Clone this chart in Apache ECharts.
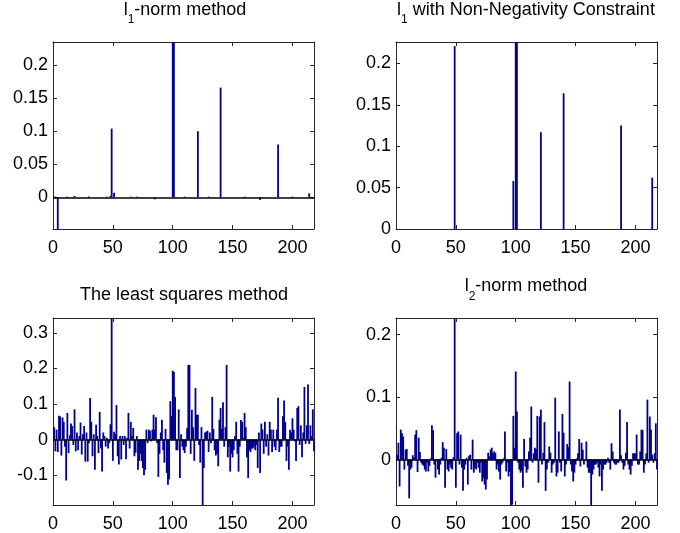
<!DOCTYPE html>
<html><head><meta charset="utf-8">
<script src="https://cdn.jsdelivr.net/npm/echarts@6/dist/echarts.min.js"></script>
<style>html,body{margin:0;padding:0;background:#fff}#c{width:680px;height:533px}</style>
</head><body><div id="c"></div>
<script>
// ---- data ----
const xTicks = [0, 50, 100, 150, 200];

// l1-norm method (sparse: index, value)
const l1Idx = [2, 4, 12, 18, 30, 45, 48, 49, 51, 65, 70, 85, 100, 101, 110, 121, 130, 140, 160, 173, 188, 200, 214];
const l1Val = [0.001, -0.06, 0.001, 0.002, 0.001, 0.001, 0.002, 0.104, 0.007, 0.001, 0.001, -0.003, 0.25, 0.25, 0.001, 0.1, 0.001, 0.166, 0.001, -0.004, 0.08, 0.001, 0.006];
const l1YTicks = [0, 0.05, 0.1, 0.15, 0.2];

// l1 with non-negativity constraint (sparse: index, value)
const nnIdx = [49, 98, 100, 101, 121, 140, 188, 214];
const nnVal = [0.221, 0.058, 0.24, 0.24, 0.117, 0.164, 0.125, 0.062];
const nnYTicks = [0, 0.05, 0.1, 0.15, 0.2];

// least squares method, indices 1..218
const lsVal = [
  0.035, -0.033, 0.028, -0.035, 0.067, 0.065, -0.045, 0.062, 0.05, -0.02,
  -0.115, 0.075, -0.038, 0.012, 0.045, 0.038, -0.015, 0.085, -0.033, 0.02,
  -0.03, 0.01, 0.048, -0.042, 0.015, 0.038, -0.062, 0.02, -0.062, -0.01,
  0.117, 0.05, -0.047, 0.015, -0.085, 0.042, 0.01, -0.038, 0.078, -0.025,
  -0.09, 0.02, 0.01, -0.02, 0.005, -0.025, -0.01, 0.043, 0.36, -0.06,
  0.022, 0.015, 0.097, -0.047, -0.07, 0.01, -0.056, 0.01, -0.015, 0.01,
  -0.055, 0.005, 0.075, -0.025, 0.05, 0.01, 0.033, -0.047, -0.037, 0.01,
  -0.085, -0.06, -0.04, -0.06, -0.08, -0.1, -0.085, 0.028, -0.01, 0.028,
  0.025, -0.005, 0.028, 0.07, 0.028, 0.063, -0.01, -0.105, -0.04, 0.02,
  0.056, -0.03, -0.065, 0.03, -0.094, -0.127, -0.112, 0.108, 0.066, 0.194,
  0.19, 0.12, -0.03, -0.03, 0.085, -0.108, 0.015, -0.02, -0.03, -0.038,
  -0.02, 0.032, 0.21, 0.21, -0.04, 0.084, 0.035, -0.06, 0.145, 0.07,
  0.07, -0.015, -0.065, 0.035, -0.19, -0.08, 0.02, 0.022, 0.025, -0.035,
  0.02, -0.01, 0.12, 0.03, -0.03, -0.045, -0.04, -0.075, 0.056, 0.089,
  0.03, 0.105, -0.02, 0.035, 0.21, -0.05, -0.02, -0.09, -0.04, -0.05,
  -0.03, 0.01, 0.05, -0.04, -0.09, -0.02, 0.055, 0.05, 0.005, 0.075,
  0.035, -0.05, -0.108, -0.03, -0.035, -0.025, -0.025, -0.02, -0.03, -0.015,
  -0.08, 0.02, -0.094, 0.045, 0.028, -0.04, 0.05, -0.02, 0.015, -0.045,
  0.05, 0.028, -0.035, 0.028, -0.02, -0.03, 0.028, 0.118, -0.035, -0.02,
  -0.02, 0.066, 0.11, 0.05, -0.06, -0.02, -0.085, 0.028, 0.02, 0.06,
  0.028, -0.005, -0.06, 0.089, 0.094, -0.015, 0.04, -0.05, 0.02, 0.148,
  -0.012, 0.04, 0.155, -0.012, 0.04, 0.01, 0.085, -0.033
];
const lsYTicks = [-0.1, 0, 0.1, 0.2, 0.3];

// l2-norm method, indices 1..218
const l2Val = [
  0.008, 0.027, -0.043, 0.048, 0.042, 0.037, -0.016, 0.016, 0.017, -0.01,
  -0.062, -0.016, -0.013, 0.007, 0.003, 0.04, 0.047, -0.02, 0.035, 0.012,
  -0.005, -0.008, -0.01, -0.016, -0.019, -0.005, -0.019, -0.01, 0.002, 0.055,
  0.047, -0.008, -0.029, 0.001, -0.016, -0.024, -0.008, 0.003, 0.028, 0.019,
  -0.045, 0.017, -0.016, -0.019, -0.008, -0.013, -0.016, 0.004, 0.24, -0.045,
  0.042, 0.045, -0.008, 0.04, -0.013, -0.05, -0.016, -0.008, 0.003, -0.04,
  0.006, 0.008, -0.016, 0.032, -0.021, -0.013, -0.016, -0.005, -0.013, -0.021,
  -0.005, -0.035, -0.03, -0.04, -0.048, -0.032, 0.011, 0.005, 0.016, 0.019,
  0.01, 0.013, 0.011, -0.016, -0.008, -0.019, -0.032, -0.008, -0.005, 0.002,
  0.045, -0.019, -0.005, -0.027, -0.02, -0.075, -0.072, 0.07, 0.019, 0.141,
  0.077, -0.005, -0.016, -0.021, -0.018, -0.045, 0.033, -0.011, -0.021, -0.016,
  0.013, 0.035, 0.085, -0.005, 0.01, 0.019, 0.017, 0.07, -0.037, 0.069,
  0.08, -0.008, 0.011, 0.06, -0.05, -0.016, -0.005, 0.021, 0.011, -0.021,
  -0.008, -0.005, 0.099, -0.027, -0.021, 0.045, -0.005, -0.019, 0.073, 0.043,
  -0.027, -0.008, 0.025, 0.02, 0.125, -0.008, -0.019, -0.035, -0.021, -0.008,
  0.002, 0.01, 0.033, -0.011, 0.027, 0.016, -0.008, -0.002, 0.029, -0.013,
  -0.021, -0.021, -0.08, -0.024, -0.016, -0.008, -0.008, -0.005, -0.013, -0.027,
  -0.008, -0.05, -0.016, -0.008, -0.008, -0.005, 0.003, -0.005, -0.016, 0.026,
  0.013, -0.005, -0.008, -0.008, -0.005, -0.005, 0.08, 0.007, -0.005, -0.016,
  -0.01, 0.011, 0.06, -0.008, -0.016, -0.024, -0.01, 0.01, 0.01, 0.01,
  0.04, -0.008, -0.008, 0.013, 0.048, 0.047, -0.021, -0.008, 0.01, 0.096,
  -0.005, 0.069, 0.048, 0.008, -0.005, 0.01, 0.058, -0.016
];
const l2YTicks = [0, 0.1, 0.2];

// titles: [main, subscript, rest]
const titleParts = [
  ['l', '1', '-norm method'],
  ['l', '1', ' with Non-Negativity Constraint'],
  ['The least squares method', '', ''],
  ['l', '2', '-norm method']
];

// ---- chart ----
const FONT = "'Liberation Sans', Arial, Helvetica, sans-serif";
const BAR = '#00008b';
const AX = '#262626';

const panels = [
  {grid: {left: 53, top: 42, width: 261, height: 187}, ymin: -0.048, ymax: 0.235, yt: l1YTicks,
   data: l1Idx.map((x, i) => [x, l1Val[i]]), base: true, tx: 185, ty: 10},
  {grid: {left: 396, top: 42, width: 261, height: 187}, ymin: 0, ymax: 0.226, yt: nnYTicks,
   data: nnIdx.map((x, i) => [x, nnVal[i]]), base: false, tx: 526, ty: 10},
  {grid: {left: 53, top: 318, width: 261, height: 187}, ymin: -0.184, ymax: 0.342, yt: lsYTicks,
   data: lsVal.map((v, i) => [i + 1, v]), base: true, tx: 184, ty: 295.5},
  {grid: {left: 396, top: 318, width: 261, height: 187}, ymin: -0.0727, ymax: 0.2266, yt: l2YTicks,
   data: l2Val.map((v, i) => [i + 1, v]), base: true, tx: 526, ty: 286.5}
];

const grid = [], xAxis = [], yAxis = [], series = [], graphic = [];
const mctx = document.createElement('canvas').getContext('2d');
function tw(t, size) { mctx.font = size + 'px ' + FONT; return mctx.measureText(t).width; }

panels.forEach((p, k) => {
  grid.push(p.grid);
  const tick = {show: true, inside: true, length: 4, lineStyle: {color: AX, width: 1}};
  xAxis.push({type: 'value', gridIndex: k, min: 0, max: 218, position: 'bottom',
    axisLine: {show: true, onZero: false, lineStyle: {color: AX, width: 1}},
    axisTick: Object.assign({customValues: xTicks}, tick),
    axisLabel: {customValues: xTicks, color: '#000', fontSize: 18, fontFamily: FONT, margin: 10},
    splitLine: {show: false}});
  xAxis.push({type: 'value', gridIndex: k, min: 0, max: 218, position: 'top',
    axisLine: {show: true, onZero: false, lineStyle: {color: AX, width: 1}},
    axisTick: Object.assign({customValues: xTicks}, tick),
    axisLabel: {show: false}, splitLine: {show: false}});
  yAxis.push({type: 'value', gridIndex: k, min: p.ymin, max: p.ymax, position: 'left',
    axisLine: {show: true, onZero: false, lineStyle: {color: AX, width: 1}},
    axisTick: Object.assign({customValues: p.yt}, tick),
    axisLabel: {customValues: p.yt, color: '#000', fontSize: 18, fontFamily: FONT, margin: 5},
    splitLine: {show: false}});
  yAxis.push({type: 'value', gridIndex: k, min: p.ymin, max: p.ymax, position: 'right',
    axisLine: {show: true, onZero: false, lineStyle: {color: AX, width: 1}},
    axisTick: Object.assign({customValues: p.yt}, tick),
    axisLabel: {show: false}, splitLine: {show: false}});
  const s = {type: 'bar', xAxisIndex: 2 * k, yAxisIndex: 2 * k, data: p.data,
    barWidth: 1.8, itemStyle: {color: BAR}, clip: true, silent: true};
  if (p.base) {
    s.markLine = {silent: true, symbol: ['none', 'none'], label: {show: false},
      lineStyle: {color: '#000', width: 1.5, type: 'solid'}, data: [{yAxis: 0}]};
  }
  series.push(s);

  // title with subscript
  const [m, sub, rest] = titleParts[k];
  const wm = tw(m, 18), ws = sub ? tw(sub, 12) : 0, wr = rest ? tw(rest, 18) : 0;
  let x = p.tx - (wm + ws + wr) / 2;
  const st = (text, size) => ({text: text, fontSize: size, fontFamily: FONT, fill: '#000',
    align: 'left', verticalAlign: 'middle'});
  graphic.push({type: 'text', x: x, y: p.ty, silent: true, style: st(m, 18)});
  x += wm;
  if (sub) { graphic.push({type: 'text', x: x, y: p.ty + 10, silent: true, style: st(sub, 12)}); x += ws; }
  if (rest) graphic.push({type: 'text', x: x, y: p.ty, silent: true, style: st(rest, 18)});
});

const chart = echarts.init(document.getElementById('c'), null, {renderer: 'canvas'});
chart.setOption({animation: false, backgroundColor: '#fff',
  grid: grid, xAxis: xAxis, yAxis: yAxis, series: series, graphic: graphic});
</script></body></html>
